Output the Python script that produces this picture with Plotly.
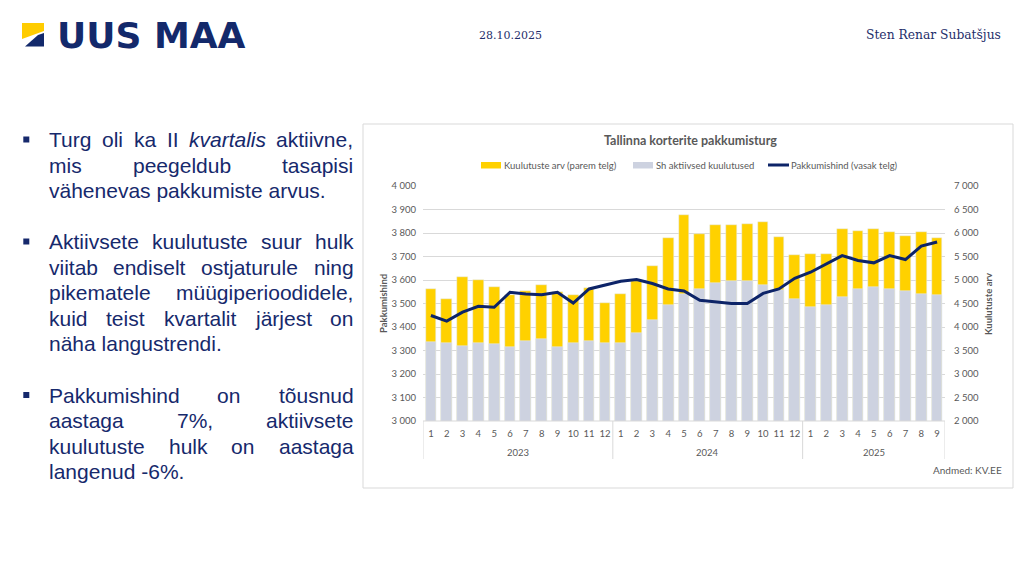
import plotly.graph_objects as go

# ---------------- data ----------------
months = ["1","2","3","4","5","6","7","8","9","10","11","12",
          "1","2","3","4","5","6","7","8","9","10","11","12",
          "1","2","3","4","5","6","7","8","9"]
years = ["2023", "2024", "2025"]
year_lengths = [12, 12, 9]

total_listings = [4810, 4594, 5056, 4993, 4853, 4690, 4769, 4895, 4740, 4685, 4825, 4512,
                  4706, 4989, 5294, 5896, 6377, 5986, 6170, 6170, 6193, 6228, 5917, 5542,
                  5556, 5556, 6094, 6044, 6094, 6016, 5930, 6016, 5896]
active_listings = [3690, 3669, 3605, 3661, 3647, 3569, 3711, 3747, 3583, 3654, 3711, 3661,
                   3669, 3874, 4158, 4458, 4692, 4819, 4926, 4975, 4975, 4890, 4777, 4586,
                   4423, 4473, 4628, 4812, 4855, 4819, 4770, 4692, 4671]
asking_price = [3449, 3425, 3463, 3488, 3484, 3548, 3540, 3537, 3548, 3502, 3562, 3579,
                3595, 3602, 3585, 3562, 3553, 3514, 3507, 3500, 3500, 3543, 3562, 3607,
                3633, 3668, 3704, 3683, 3673, 3704, 3687, 3744, 3762]

title = "Tallinna korterite pakkumisturg"
legend_labels = ["Kuulutuste arv (parem telg)", "Sh aktiivsed kuulutused", "Pakkumishind (vasak telg)"]

bullets = [
    ["Turg oli ka II <i>kvartalis</i> aktiivne,", "mis peegeldub tasapisi", "vähenevas pakkumiste arvus."],
    ["Aktiivsete kuulutuste suur hulk", "viitab endiselt ostjaturule ning", "pikematele müügiperioodidele,",
     "kuid teist kvartalit järjest on", "näha langustrendi."],
    ["Pakkumishind on tõusnud", "aastaga 7%, aktiivsete", "kuulutuste hulk on aastaga", "langenud -6%."],
]

# ---------------- styles ----------------
W, H = 1024, 576
PL, PR, PT, PB = 423, 945, 186, 421   # plot area in pixels
YELLOW = "#FFD100"
GREY = "#CDD2E0"
NAVY = "#0D2468"
TXT = "#595959"
TEXT_NAVY = "#16296C"
CFONT = "Lato"

def px(x):
    return (x - PL) / (PR - PL)

def py(y):
    return (PB - y) / (PB - PT)

x = list(range(len(months)))

fig = go.Figure()
fig.add_trace(go.Bar(x=x, y=total_listings, marker_color=YELLOW, width=0.68,
                     name=legend_labels[0], yaxis="y"))
fig.add_trace(go.Bar(x=x, y=active_listings, marker_color=GREY, width=0.68,
                     name=legend_labels[1], yaxis="y"))
fig.add_trace(go.Scatter(x=x, y=asking_price, mode="lines", line=dict(color=NAVY, width=3),
                         name=legend_labels[2], yaxis="y2"))

annotations = []
shapes = []

# chart box
shapes.append(dict(type="rect", xref="paper", yref="paper", x0=px(363), x1=px(1013), y0=py(124), y1=py(488),
                   line=dict(color="#D9D9D9", width=1), fillcolor="rgba(0,0,0,0)", layer="below"))

# title
annotations.append(dict(xref="paper", yref="paper", x=px(690), y=py(140), text="<b>" + title + "</b>",
                        showarrow=False, font=dict(family=CFONT, size=12.5, color=TXT),
                        xanchor="center", yanchor="middle"))

# custom legend
leg = [(481, YELLOW, "bar", legend_labels[0]), (633, GREY, "bar", legend_labels[1]),
       (768, NAVY, "line", legend_labels[2])]
for x0, col, kind, lab in leg:
    if kind == "bar":
        shapes.append(dict(type="rect", xref="paper", yref="paper", x0=px(x0), x1=px(x0 + 20),
                           y0=py(168.5), y1=py(162), fillcolor=col, line=dict(width=0)))
    else:
        shapes.append(dict(type="line", xref="paper", yref="paper", x0=px(x0), x1=px(x0 + 21),
                           y0=py(165), y1=py(165), line=dict(color=col, width=3)))
    annotations.append(dict(xref="paper", yref="paper", x=px(x0 + 21), y=py(165.5), text=lab,
                            showarrow=False, font=dict(family=CFONT, size=9.5, color=TXT),
                            xanchor="left", yanchor="middle"))

# axis titles
annotations.append(dict(xref="paper", yref="paper", x=px(383), y=py(304), text="<b>Pakkumishind</b>",
                        textangle=-90, showarrow=False, xanchor="center", yanchor="middle",
                        font=dict(family=CFONT, size=9.5, color=TXT)))
annotations.append(dict(xref="paper", yref="paper", x=px(988), y=py(304), text="<b>Kuulutuste arv</b>",
                        textangle=-90, showarrow=False, xanchor="center", yanchor="middle",
                        font=dict(family=CFONT, size=9.5, color=TXT)))

# year labels and separators
start = 0
seps = [-0.5]
for yr, n in zip(years, year_lengths):
    annotations.append(dict(xref="x", yref="paper", x=start + (n - 1) / 2, y=py(452), text=yr,
                            showarrow=False, xanchor="center", yanchor="middle",
                            font=dict(family=CFONT, size=9.5, color=TXT)))
    start += n
    seps.append(start - 0.5)
for s in seps:
    shapes.append(dict(type="line", xref="x", yref="paper", x0=s, x1=s, y0=py(421), y1=py(459),
                       line=dict(color="#D9D9D9", width=1)))
shapes.append(dict(type="line", xref="paper", yref="paper", x0=0, x1=1, y0=0, y1=0,
                   line=dict(color="#D9D9D9", width=1)))

# source
annotations.append(dict(xref="paper", yref="paper", x=px(1004), y=py(470), text="Andmed: KV.EE",
                        showarrow=False, xanchor="right", yanchor="middle",
                        font=dict(family=CFONT, size=10, color=TXT)))

# ---------------- header ----------------
shapes.append(dict(type="path", xref="paper", yref="paper",
                   path="M {} {} L {} {} L {} {} L {} {} Z".format(px(22), py(23), px(44), py(23),
                                                                 px(44), py(31), px(22), py(39)),
                   fillcolor="#FFCC00", line=dict(width=0)))
shapes.append(dict(type="path", xref="paper", yref="paper",
                   path="M {} {} L {} {} L {} {} L {} {} Z".format(px(25), py(46.5), px(44), py(46.5),
                                                                 px(44), py(33), px(38), py(35)),
                   fillcolor="#13296B", line=dict(width=0)))
annotations.append(dict(xref="paper", yref="paper", x=px(55), y=py(35), text="<b>UUS MAA</b>",
                        showarrow=False, xanchor="left", yanchor="middle",
                        font=dict(family="DejaVu Sans", size=36, color="#13296B")))
annotations.append(dict(xref="paper", yref="paper", x=px(510), y=py(35), text="28.10.2025",
                        showarrow=False, xanchor="center", yanchor="middle",
                        font=dict(family="DejaVu Serif", size=11, color="#1F2F6B")))
annotations.append(dict(xref="paper", yref="paper", x=px(1003), y=py(35), text="Sten Renar Subatšjus",
                        showarrow=False, xanchor="right", yanchor="middle",
                        font=dict(family="DejaVu Serif", size=12.3, color="#1F2F6B")))

# ---------------- bullet text (justified) ----------------
AW = {'a': 556, 'b': 556, 'c': 500, 'd': 556, 'e': 556, 'f': 278, 'g': 556, 'h': 556, 'i': 222,
      'j': 222, 'k': 500, 'l': 222, 'm': 833, 'n': 556, 'o': 556, 'p': 556, 'q': 556, 'r': 333,
      's': 500, 't': 278, 'u': 556, 'v': 500, 'w': 722, 'x': 500, 'y': 500, 'z': 500, 'ä': 556,
      'õ': 556, 'ü': 556, 'ö': 556, 'T': 611, 'I': 278, 'A': 667, 'P': 667, ',': 278, '.': 278,
      '%': 889, '-': 333, '7': 556, '6': 556, ' ': 278}
FS = 21
TX0, TX1 = 47.7, 352.3

def wwidth(word):
    plain = word.replace("<i>", "").replace("</i>", "")
    return sum(AW.get(c, 556) for c in plain) / 1000 * FS

line_ys = [[139.5, 165, 190.5], [241.5, 267, 292.5, 318, 343.5], [395, 420.5, 446, 471.5]]
for block, ys in zip(bullets, line_ys):
    shapes.append(dict(type="rect", xref="paper", yref="paper", x0=px(23.3), x1=px(29.3),
                       y0=py(ys[0] - 3), y1=py(ys[0] + 3), fillcolor=TEXT_NAVY, line=dict(width=0)))
    for i, (line, yy) in enumerate(zip(block, ys)):
        if i == len(block) - 1:
            annotations.append(dict(xref="paper", yref="paper", x=px(TX0), y=py(yy), text=line,
                                    showarrow=False, xanchor="left", yanchor="middle", borderpad=0,
                                    font=dict(family="Liberation Sans", size=FS, color=TEXT_NAVY)))
            continue
        words = line.split(" ")
        widths = [wwidth(w) for w in words]
        gap = (TX1 - TX0 - sum(widths)) / (len(words) - 1)
        cx = TX0
        for w, wd in zip(words, widths):
            annotations.append(dict(xref="paper", yref="paper", x=px(cx), y=py(yy), text=w,
                                    showarrow=False, xanchor="left", yanchor="middle", borderpad=0,
                                    font=dict(family="Liberation Sans", size=FS, color=TEXT_NAVY)))
            cx += wd + gap

fig.update_layout(
    width=W, height=H, autosize=False,
    margin=dict(l=PL, r=W - PR, t=PT, b=H - PB, pad=0),
    paper_bgcolor="white", plot_bgcolor="white",
    barmode="overlay", bargap=0, showlegend=False,
    separators=", ",
    xaxis=dict(range=[-0.5, len(months) - 0.5], tickmode="array", tickvals=x, ticktext=months,
               showgrid=False, zeroline=False, showline=False, ticks="",
               tickfont=dict(family=CFONT, size=9.5, color=TXT), ticklabelstandoff=5),
    yaxis=dict(side="right", range=[2000, 7000], tick0=2000, dtick=500, tickformat=",d",
               showgrid=True, gridcolor="#D9D9D9", gridwidth=1, zeroline=False, showline=False,
               ticks="", tickfont=dict(family=CFONT, size=9.5, color=TXT), ticklabelstandoff=8),
    yaxis2=dict(side="left", overlaying="y", range=[3000, 4000], tick0=3000, dtick=100, tickformat=",d",
                showgrid=False, zeroline=False, showline=False, ticks="",
                tickfont=dict(family=CFONT, size=9.5, color=TXT), ticklabelstandoff=6),
    shapes=shapes, annotations=annotations,
)

fig.write_html("out.html", config={"displayModeBar": False},
               post_script="document.body.style.margin='0px';document.body.style.overflow='hidden';")
